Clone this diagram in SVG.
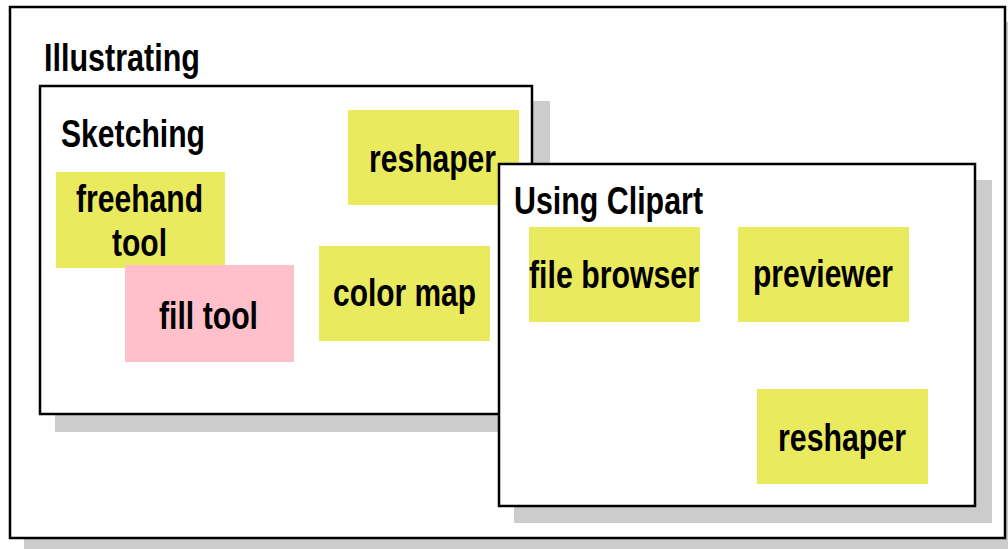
<svg xmlns="http://www.w3.org/2000/svg" width="1008" height="549" viewBox="0 0 1008 549">
<style>
.shadow{fill:#cccccc;stroke:none}
.box{fill:#ffffff;stroke:#000000;stroke-width:2.5}
.note{fill:#eaea5e;stroke:none}
.pink{fill:#ffc0cb;stroke:none}
text{font-family:"Liberation Sans",Arial,sans-serif;font-weight:bold;font-size:38px;fill:#000000}
</style>
<rect width="1008" height="549" fill="#ffffff"/>
<g id="illustrating">
<rect class="shadow" x="24" y="22" width="995" height="531"/>
<rect class="box" x="10" y="7" width="995" height="531"/>
<text x="44" y="71" textLength="156" lengthAdjust="spacingAndGlyphs">Illustrating</text>
</g>
<g id="sketching">
<rect class="shadow" x="55" y="101" width="495" height="331"/>
<rect class="box" x="40" y="86" width="492" height="328"/>
<text x="61" y="147" textLength="144" lengthAdjust="spacingAndGlyphs">Sketching</text>
</g>
<g id="reshaper1">
<rect class="note" x="348" y="110" width="171" height="95"/>
<text x="369" y="172" textLength="127" lengthAdjust="spacingAndGlyphs">reshaper</text>
</g>
<g id="freehand">
<rect class="note" x="56" y="172" width="169" height="96"/>
<text x="76" y="212" textLength="127" lengthAdjust="spacingAndGlyphs">freehand</text>
<text x="112" y="256" textLength="55" lengthAdjust="spacingAndGlyphs">tool</text>
</g>
<g id="filltool">
<rect class="pink" x="125" y="265" width="169" height="97"/>
<text x="159" y="329" textLength="99" lengthAdjust="spacingAndGlyphs">fill tool</text>
</g>
<g id="colormap">
<rect class="note" x="319" y="246" width="171" height="95"/>
<text x="333" y="306" textLength="143" lengthAdjust="spacingAndGlyphs">color map</text>
</g>
<g id="clipart">
<rect class="shadow" x="514" y="180" width="478" height="343"/>
<rect class="box" x="499" y="164" width="476" height="342"/>
<text x="514" y="214" textLength="189" lengthAdjust="spacingAndGlyphs">Using Clipart</text>
</g>
<g id="filebrowser">
<rect class="note" x="529" y="227" width="171" height="95"/>
<text x="529" y="288" textLength="170" lengthAdjust="spacingAndGlyphs">file browser</text>
</g>
<g id="previewer">
<rect class="note" x="738" y="227" width="171" height="95"/>
<text x="753" y="287" textLength="140" lengthAdjust="spacingAndGlyphs">previewer</text>
</g>
<g id="reshaper2">
<rect class="note" x="757" y="389" width="171" height="95"/>
<text x="778" y="451" textLength="128" lengthAdjust="spacingAndGlyphs">reshaper</text>
</g>
<g id="connectors"></g>
</svg>
